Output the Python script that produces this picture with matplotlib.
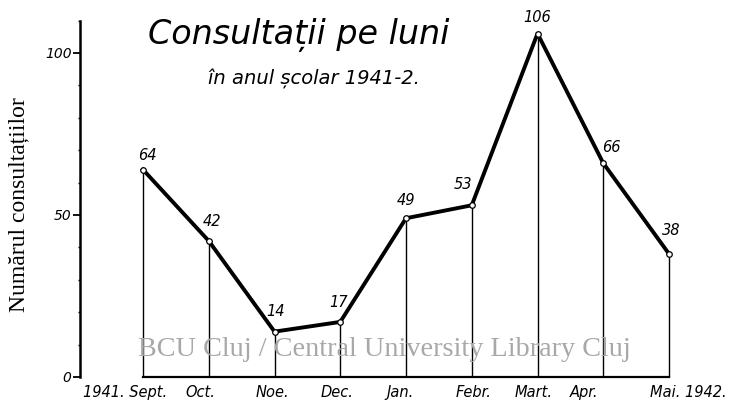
import matplotlib
matplotlib.use("Agg")
import matplotlib.pyplot as plt
from matplotlib.ticker import FixedLocator

# data
months = ["1941. Sept.", "Oct.", "Noe.", "Dec.", "Jan.", "Febr.", "Mart.", "Apr.", "Mai. 1942."]
consultations = [64, 42, 14, 17, 49, 53, 106, 66, 38]
yticks = [0, 50, 100]
yminor = [10, 20, 30, 40, 60, 70, 80, 90, 110]

# label nudges in pixels (dx, dy) - just to look like the hand lettering
value_offsets = [(4, 7), (3, 12), (1, 13), (-2, 12), (0, 10), (-9, 13), (0, 9), (8, 8), (2, 16)]
month_offsets = [-18, -8, -2, -3, -6, 2, -4, -19, 19]

hand = dict(family="DejaVu Sans", style="italic")

fig = plt.figure(figsize=(7.31, 4.13), dpi=100)
ax = fig.add_axes([0, 0, 1, 1])

x = list(range(len(months)))
step = 65.75          # px between months
x0_px, y0_px, ppu = 143, 377, 3.24
ax.set_xlim(-x0_px / step, (731 - x0_px) / step)
ax.set_ylim(-(413 - y0_px) / ppu, y0_px / ppu)

# drop lines and the polygon
ax.vlines(x, 0, consultations, color="black", lw=1.0, zorder=2)
ax.plot(x, consultations, color="black", lw=2.8, zorder=3,
        marker="o", ms=4, mfc="white", mec="black", mew=0.9)

for xi, v, (dx, dy) in zip(x, consultations, value_offsets):
    ax.annotate(str(v), (xi, v), xytext=(dx, dy), textcoords="offset pixels",
                ha="center", va="bottom", fontsize=10.5, **hand)

for xi, m, dx in zip(x, months, month_offsets):
    ax.annotate(m, (xi, 0), xytext=(dx, -8), textcoords="offset pixels",
                ha="center", va="top", fontsize=10.5, **hand)

# axes: hand drawn vertical scale + base line
for s in ("top", "right"):
    ax.spines[s].set_visible(False)
ax.spines["left"].set_position(("data", (80 - x0_px) / step))
ax.spines["left"].set_bounds(0, 110)
ax.spines["left"].set_linewidth(1.8)
ax.spines["bottom"].set_position(("data", 0))
ax.spines["bottom"].set_bounds(0, len(months) - 1)
ax.spines["bottom"].set_linewidth(1.6)
ax.set_xticks([])
ax.set_yticks(yticks)
ax.set_yticklabels([str(t) for t in yticks], **hand, fontsize=10)
ax.yaxis.set_minor_locator(FixedLocator(yminor))
ax.tick_params(axis="y", which="major", length=5, width=1.3, pad=1)
ax.tick_params(axis="y", which="minor", length=1.5, width=1)

fig.text(19 / 731, 1 - 205 / 413, "Numărul consultațiilor", rotation=90,
         family="Liberation Serif", fontsize=17, ha="center", va="center")

fig.text(148 / 731, 1 - 35 / 413, "Consultații pe luni", fontsize=24,
         va="center", ha="left", **hand)
fig.text(208 / 731, 1 - 79 / 413, "în anul școlar 1941-2.", fontsize=14,
         va="center", ha="left", **hand)

# library watermark
fig.text(138 / 731, 1 - 350 / 413, "BCU Cluj / Central University Library Cluj",
         family="Liberation Serif", fontsize=20.3, color="#a8a8a8",
         va="center", ha="left", zorder=5)

fig.savefig("out.png", dpi=100)
